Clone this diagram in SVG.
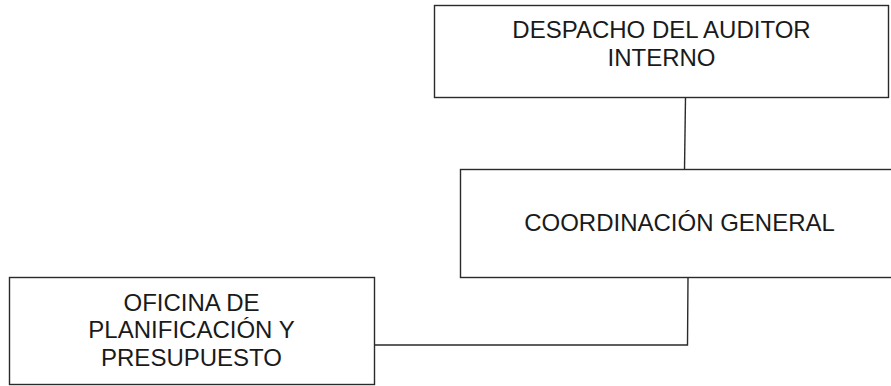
<svg xmlns="http://www.w3.org/2000/svg" width="891" height="386" viewBox="0 0 891 386">
<style>
.box{fill:#fff;stroke:#2a2a2a;stroke-width:1.4}
.t{font-family:"Liberation Sans",Arial,sans-serif;font-size:24px;fill:#1a1a1a;text-anchor:middle}
.c{fill:none;stroke:#2a2a2a;stroke-width:1.4}
</style>
<rect width="891" height="386" fill="#fff"/>
<g id="connectors">
<path class="c" d="M685.5 97.5 L684.5 169.5"/>
<path class="c" d="M688 277.5 L687.5 345 L374.5 345"/>
</g>
<g id="despacho">
<rect class="box" x="434.5" y="5.5" width="454" height="92"/>
<text class="t" x="661.5" y="38">DESPACHO DEL AUDITOR</text>
<text class="t" x="661.5" y="65.5">INTERNO</text>
</g>
<g id="coordinacion">
<rect class="box" x="460.5" y="169.5" width="440" height="108"/>
<text class="t" x="679.5" y="231">COORDINACIÓN GENERAL</text>
</g>
<g id="oficina">
<rect class="box" x="9.5" y="277.5" width="365" height="107"/>
<text class="t" x="191.5" y="310.5">OFICINA DE</text>
<text class="t" x="191.5" y="338">PLANIFICACIÓN Y</text>
<text class="t" x="191.5" y="365.5">PRESUPUESTO</text>
</g>
</svg>
